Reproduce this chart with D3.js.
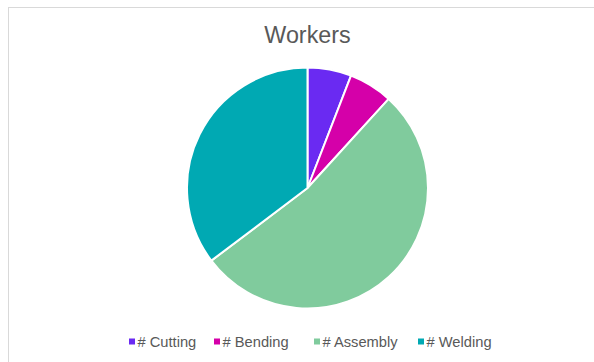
<!DOCTYPE html>
<html>
<head>
<meta charset="utf-8">
<script src="https://cdn.jsdelivr.net/npm/d3@7"></script>
<style>
  html, body { margin: 0; padding: 0; background: #fff; }
  svg { display: block; }
</style>
</head>
<body>
<svg id="chart" width="594" height="362"></svg>
<script>
// Worker counts per station
const categories = ["# Cutting", "# Bending", "# Assembly", "# Welding"];
const workers = [1, 1, 9, 6];
const colors = ["#6a2af2", "#d500a9", "#80cb9d", "#00a9b3"];

const svg = d3.select("#chart");
const W = 594, H = 362;

// chart frame
svg.append("rect")
  .attr("x", 8.5).attr("y", 7.5)
  .attr("width", W + 20).attr("height", H + 20)
  .attr("fill", "#fff")
  .attr("stroke", "#d9d9d9")
  .attr("stroke-width", 1);

// title
svg.append("text")
  .attr("x", 307.5).attr("y", 43)
  .attr("text-anchor", "middle")
  .attr("font-family", "Liberation Sans, Arial, sans-serif")
  .attr("font-size", 23.3)
  .attr("fill", "#595959")
  .text("Workers");

const cx = 307.5, cy = 188, r = 120.5;
const data = categories.map((c, i) => ({ name: c, value: workers[i], color: colors[i] }));

const pie = d3.pie().value(d => d.value).sort(null);
const arc = d3.arc().innerRadius(0).outerRadius(r);

svg.append("g")
  .attr("transform", `translate(${cx},${cy})`)
  .selectAll("path")
  .data(pie(data))
  .join("path")
  .attr("d", arc)
  .attr("fill", d => d.data.color)
  .attr("stroke", "#fff")
  .attr("stroke-width", 2)
  .attr("stroke-linejoin", "round");

// legend
const legendX = [129, 214, 314, 418];
const legend = svg.append("g");
data.forEach((d, i) => {
  const g = legend.append("g").attr("transform", `translate(${legendX[i]},342)`);
  g.append("rect")
    .attr("x", 0).attr("y", -3.5)
    .attr("width", 6).attr("height", 6)
    .attr("fill", d.color);
  g.append("text")
    .attr("x", 8.5).attr("y", 5.2)
    .attr("font-family", "Liberation Sans, Arial, sans-serif")
    .attr("font-size", 14.7)
    .attr("fill", "#595959")
    .text(d.name);
});
</script>
</body>
</html>
